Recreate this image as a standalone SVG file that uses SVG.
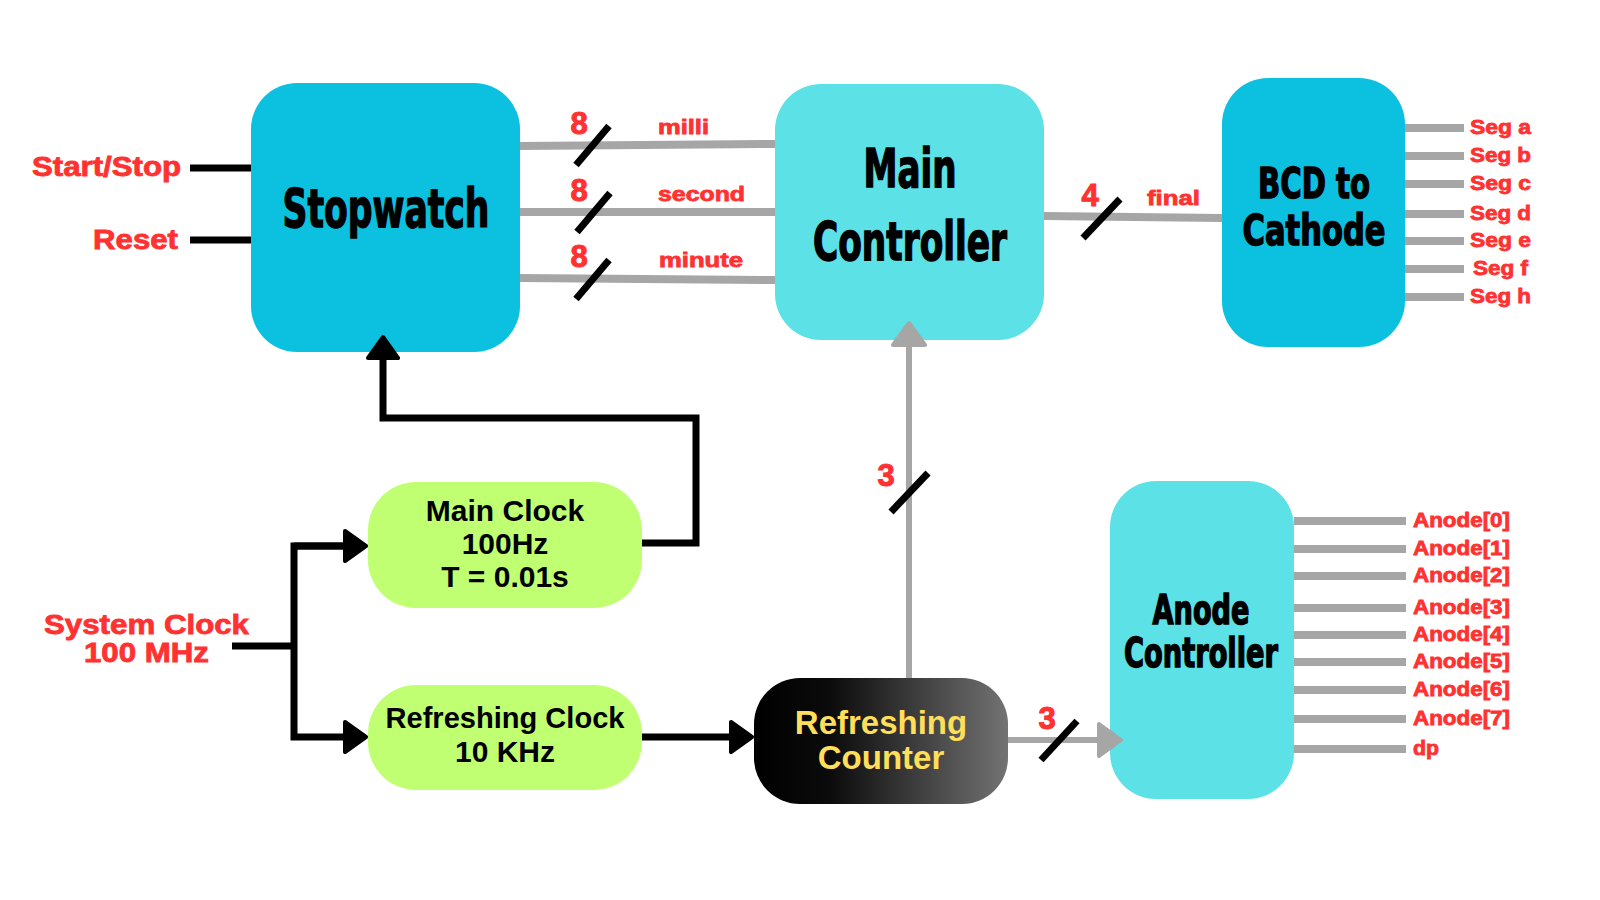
<svg xmlns="http://www.w3.org/2000/svg" width="1600" height="900" viewBox="0 0 1600 900">
<defs>
<style>
.title{font-family:"DejaVu Sans Condensed","Liberation Sans",sans-serif;font-weight:bold;fill:#000;stroke:#000;stroke-width:1.4;text-anchor:middle}
.lbl{font-family:"Liberation Sans",Arial,sans-serif;font-weight:bold;fill:#ff3131;stroke:#ff3131;stroke-width:0.8}
.num{font-family:"Liberation Sans",Arial,sans-serif;font-weight:bold;fill:#ff3131;stroke:#ff3131;stroke-width:1;font-size:31px;text-anchor:middle}
.clk{font-family:"Liberation Sans",Arial,sans-serif;font-weight:bold;fill:#000;font-size:30px;text-anchor:middle}
.cnt{font-family:"Liberation Sans",Arial,sans-serif;font-weight:bold;fill:#ffde59;font-size:33px;text-anchor:middle}
.blk{fill:none;stroke:#000;stroke-width:7}
.gry{fill:none;stroke:#a6a6a6;stroke-width:8}
.gryv{fill:none;stroke:#a6a6a6;stroke-width:6}
.slash{stroke:#000;stroke-width:7}
</style>
<marker id="ab" markerUnits="userSpaceOnUse" viewBox="0 0 26 34" markerWidth="26" markerHeight="34" refX="2" refY="17" orient="auto">
<path d="M2,2 L23,17 L2,32 Z" fill="#000" stroke="#000" stroke-width="4" stroke-linejoin="round"/>
</marker>
<marker id="ag" markerUnits="userSpaceOnUse" viewBox="0 0 27 36" markerWidth="27" markerHeight="36" refX="2" refY="18" orient="auto">
<path d="M2,2 L24,18 L2,34 Z" fill="#a6a6a6" stroke="#a6a6a6" stroke-width="4" stroke-linejoin="round"/>
</marker>
<linearGradient id="cg" x1="0" y1="0" x2="1" y2="0">
<stop offset="0" stop-color="#000"/>
<stop offset="0.3" stop-color="#0b0b0b"/>
<stop offset="1" stop-color="#737373"/>
</linearGradient>
</defs>
<rect width="1600" height="900" fill="#fff"/>

<g id="stopwatch">
<rect x="251" y="83" width="269" height="269" rx="46" fill="#0cc0df"/>
<text class="title" x="386" y="227" font-size="53" textLength="207" lengthAdjust="spacingAndGlyphs">Stopwatch</text>
</g>

<g id="main-controller">
<rect x="775" y="84" width="269" height="256" rx="46" fill="#5ce1e6"/>
<text class="title" x="910" y="187" font-size="53" textLength="93" lengthAdjust="spacingAndGlyphs">Main</text>
<text class="title" x="910" y="260" font-size="53" textLength="194" lengthAdjust="spacingAndGlyphs">Controller</text>
</g>

<g id="bcd-to-cathode">
<rect x="1222" y="78" width="183" height="269" rx="46" fill="#0cc0df"/>
<text class="title" x="1314" y="198" font-size="42" textLength="112" lengthAdjust="spacingAndGlyphs">BCD to</text>
<text class="title" x="1314" y="245" font-size="43" textLength="143" lengthAdjust="spacingAndGlyphs">Cathode</text>
</g>

<g id="anode-controller">
<rect x="1110" y="481" width="184" height="318" rx="46" fill="#5ce1e6"/>
<text class="title" x="1201" y="624" font-size="40" textLength="97" lengthAdjust="spacingAndGlyphs">Anode</text>
<text class="title" x="1201" y="667" font-size="40" textLength="154" lengthAdjust="spacingAndGlyphs">Controller</text>
</g>

<g id="main-clock">
<rect x="368" y="482" width="274" height="126" rx="48" fill="#c1ff72"/>
<text class="clk" x="505" y="521">Main Clock</text>
<text class="clk" x="505" y="554">100Hz</text>
<text class="clk" x="505" y="587">T = 0.01s</text>
</g>

<g id="refreshing-clock">
<rect x="368" y="685" width="274" height="105" rx="48" fill="#c1ff72"/>
<text class="clk" x="505" y="728" textLength="239" lengthAdjust="spacingAndGlyphs">Refreshing Clock</text>
<text class="clk" x="505" y="762">10 KHz</text>
</g>

<g id="refreshing-counter">
<rect x="754" y="678" width="254" height="126" rx="46" fill="url(#cg)"/>
<text class="cnt" x="881" y="734">Refreshing</text>
<text class="cnt" x="881" y="769">Counter</text>
</g>

<g id="connectors">
<line class="blk" x1="190" y1="168" x2="251" y2="168"/>
<line class="blk" x1="190" y1="240" x2="251" y2="240"/>
<line class="gry" x1="520" y1="146" x2="775" y2="144"/>
<line class="gry" x1="520" y1="212" x2="775" y2="212"/>
<line class="gry" x1="520" y1="278" x2="775" y2="280"/>
<line class="slash" x1="576" y1="165" x2="609" y2="126"/>
<line class="slash" x1="577" y1="232" x2="610" y2="193"/>
<line class="slash" x1="576" y1="299" x2="609" y2="260"/>
<line class="gry" x1="1044" y1="216" x2="1222" y2="218"/>
<line class="slash" x1="1083" y1="238" x2="1120" y2="199"/>
<line class="gry" x1="1405" y1="128" x2="1464" y2="128"/>
<line class="gry" x1="1405" y1="156" x2="1464" y2="156"/>
<line class="gry" x1="1405" y1="184" x2="1464" y2="184"/>
<line class="gry" x1="1405" y1="214" x2="1464" y2="214"/>
<line class="gry" x1="1405" y1="241" x2="1464" y2="241"/>
<line class="gry" x1="1405" y1="269" x2="1464" y2="269"/>
<line class="gry" x1="1405" y1="297" x2="1464" y2="297"/>
<line class="gry" x1="1294" y1="521" x2="1406" y2="521"/>
<line class="gry" x1="1294" y1="549" x2="1406" y2="549"/>
<line class="gry" x1="1294" y1="576" x2="1406" y2="576"/>
<line class="gry" x1="1294" y1="608" x2="1406" y2="608"/>
<line class="gry" x1="1294" y1="635" x2="1406" y2="635"/>
<line class="gry" x1="1294" y1="662" x2="1406" y2="662"/>
<line class="gry" x1="1294" y1="690" x2="1406" y2="690"/>
<line class="gry" x1="1294" y1="719" x2="1406" y2="719"/>
<line class="gry" x1="1294" y1="749" x2="1406" y2="749"/>
<polyline class="blk" points="642,543 696,543 696,418 383,418 383,358" marker-end="url(#ab)"/>
<line class="blk" x1="232" y1="646" x2="294" y2="646"/>
<polyline class="blk" points="345,546 294,546 294,737 345,737" marker-end="url(#ab)"/>
<line class="blk" x1="294" y1="546" x2="345" y2="546" marker-end="url(#ab)"/>
<line class="blk" x1="642" y1="737" x2="731" y2="737" marker-end="url(#ab)"/>
<line class="gryv" x1="909" y1="678" x2="909" y2="345" marker-end="url(#ag)"/>
<line class="slash" x1="891" y1="512" x2="928" y2="473"/>
<line class="gryv" x1="1008" y1="740" x2="1099" y2="740" marker-end="url(#ag)"/>
<line class="slash" x1="1041" y1="760" x2="1077" y2="721"/>
</g>

<g id="labels">
<text class="lbl" x="32" y="176" font-size="27" textLength="149" lengthAdjust="spacingAndGlyphs">Start/Stop</text>
<text class="lbl" x="93" y="249" font-size="27" textLength="85" lengthAdjust="spacingAndGlyphs">Reset</text>
<text class="lbl" x="44" y="634" font-size="27" textLength="205" lengthAdjust="spacingAndGlyphs">System Clock</text>
<text class="lbl" x="84" y="662" font-size="27" textLength="125" lengthAdjust="spacingAndGlyphs">100 MHz</text>
<text class="lbl" x="658" y="134" font-size="21" textLength="51" lengthAdjust="spacingAndGlyphs">milli</text>
<text class="lbl" x="658" y="201" font-size="21" textLength="87" lengthAdjust="spacingAndGlyphs">second</text>
<text class="lbl" x="659" y="267" font-size="21" textLength="84" lengthAdjust="spacingAndGlyphs">minute</text>
<text class="lbl" x="1147" y="205" font-size="21" textLength="53" lengthAdjust="spacingAndGlyphs">final</text>
<text class="num" x="579" y="134">8</text>
<text class="num" x="579" y="201">8</text>
<text class="num" x="579" y="267">8</text>
<text class="num" x="1090" y="206">4</text>
<text class="num" x="886" y="486">3</text>
<text class="num" x="1047" y="729">3</text>
<text class="lbl" x="1470" y="134" font-size="20" textLength="61" lengthAdjust="spacingAndGlyphs">Seg a</text>
<text class="lbl" x="1470" y="162" font-size="20" textLength="61" lengthAdjust="spacingAndGlyphs">Seg b</text>
<text class="lbl" x="1470" y="190" font-size="20" textLength="61" lengthAdjust="spacingAndGlyphs">Seg c</text>
<text class="lbl" x="1470" y="220" font-size="20" textLength="61" lengthAdjust="spacingAndGlyphs">Seg d</text>
<text class="lbl" x="1470" y="247" font-size="20" textLength="61" lengthAdjust="spacingAndGlyphs">Seg e</text>
<text class="lbl" x="1473" y="275" font-size="20" textLength="55" lengthAdjust="spacingAndGlyphs">Seg f</text>
<text class="lbl" x="1470" y="303" font-size="20" textLength="61" lengthAdjust="spacingAndGlyphs">Seg h</text>
<text class="lbl" x="1413" y="527" font-size="20" textLength="97" lengthAdjust="spacingAndGlyphs">Anode[0]</text>
<text class="lbl" x="1413" y="555" font-size="20" textLength="97" lengthAdjust="spacingAndGlyphs">Anode[1]</text>
<text class="lbl" x="1413" y="582" font-size="20" textLength="97" lengthAdjust="spacingAndGlyphs">Anode[2]</text>
<text class="lbl" x="1413" y="614" font-size="20" textLength="97" lengthAdjust="spacingAndGlyphs">Anode[3]</text>
<text class="lbl" x="1413" y="641" font-size="20" textLength="97" lengthAdjust="spacingAndGlyphs">Anode[4]</text>
<text class="lbl" x="1413" y="668" font-size="20" textLength="97" lengthAdjust="spacingAndGlyphs">Anode[5]</text>
<text class="lbl" x="1413" y="696" font-size="20" textLength="97" lengthAdjust="spacingAndGlyphs">Anode[6]</text>
<text class="lbl" x="1413" y="725" font-size="20" textLength="97" lengthAdjust="spacingAndGlyphs">Anode[7]</text>
<text class="lbl" x="1413" y="755" font-size="20" textLength="26" lengthAdjust="spacingAndGlyphs">dp</text>
</g>
</svg>
